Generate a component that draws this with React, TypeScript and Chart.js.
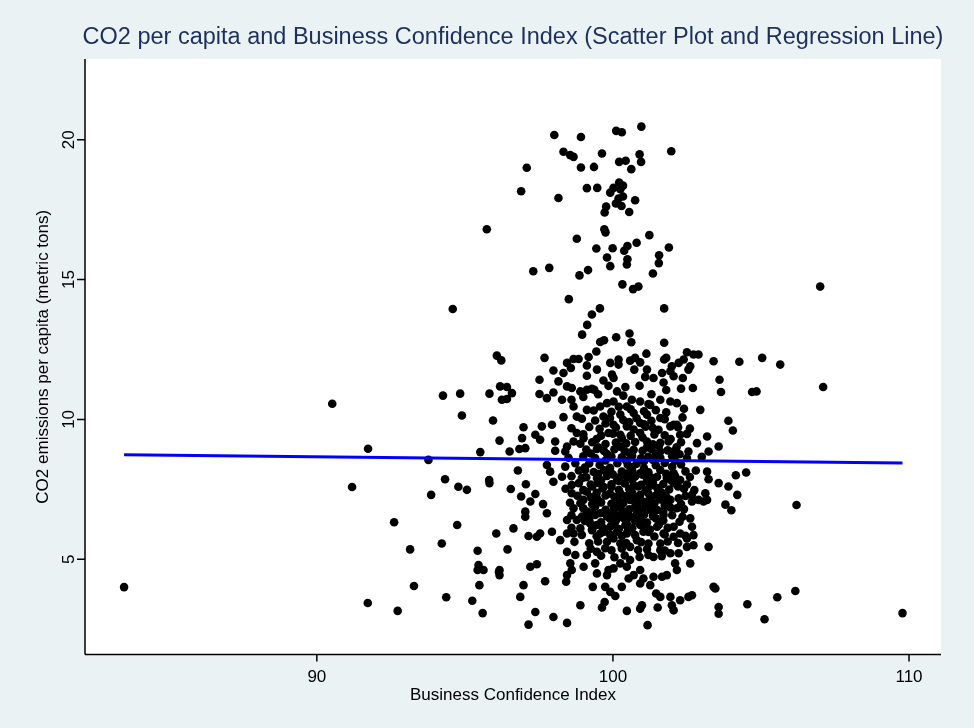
import React, { useEffect, useRef } from "react";
import { Chart, registerables } from "chart.js";

Chart.register(...registerables);

const TITLE = "CO2 per capita and Business Confidence Index (Scatter Plot and Regression Line)";
const X_TITLE = "Business Confidence Index";
const Y_TITLE = "CO2 emissions per capita (metric tons)";
const X_TICKS = [90, 100, 110];
const Y_TICKS = [5, 10, 15, 20];
const X_RANGE = [82.17, 111.08];
const Y_RANGE = [1.59, 22.89];
const REG_INTERCEPT = 9.65;
const REG_SLOPE = -0.011;

// [Business Confidence Index, CO2 per capita]
const TOP_POINTS: number[][] = [
  [98.02,20.17],[98.92,20.10],[100.11,20.32],[100.30,20.27],[100.96,20.47],
  [98.33,19.57],[98.56,19.45],[98.67,19.39],[99.63,19.51],[100.90,19.48],[101.97,19.59],
  [100.21,19.21],[100.43,19.25],[100.95,19.21],[100.62,18.95],[97.09,19.00],[98.92,19.01],[99.36,19.03],
  [96.90,18.16],[98.16,17.92],[99.12,18.27],[99.47,18.28],[100.21,18.47],[100.34,18.36],[100.02,18.28],
  [100.25,18.23],[99.91,18.11],[100.34,17.97],[100.19,17.90],[100.75,17.84],[100.10,17.72],[100.29,17.63],
  [99.77,17.61],[99.72,17.40],[100.55,17.42],
  [95.74,16.80],[99.71,16.80],[99.75,16.69],[98.78,16.46],[101.23,16.59],[99.44,16.11],[99.99,16.12],
  [100.38,16.03],[100.49,16.20],[100.80,16.32],[101.89,16.15],[101.56,15.87],[99.80,15.79],[100.49,15.73],
  [100.47,15.54],[101.55,15.59],[99.91,15.48],[97.31,15.30],[97.85,15.42],[99.16,15.34],[98.87,15.15],
  [101.35,15.22],[100.32,14.83],[100.68,14.66],[100.86,14.75],[98.51,14.30],[94.59,13.95],[99.56,13.97],
  [101.73,13.97],[107.00,14.75],
];

const UPPER_POINTS: number[][] = [
  [99.29,13.75],[99.13,13.38],[98.96,13.03],[99.70,12.83],[99.57,12.77],[100.11,12.94],[100.56,13.07],
  [100.62,12.76],[101.73,12.74],[99.44,12.43],[96.08,12.28],[96.23,12.11],[97.69,12.20],[98.45,12.02],
  [98.67,12.16],[98.84,12.16],[99.18,12.23],[99.12,11.93],[98.58,11.84],[99.46,11.78],[99.91,12.02],
  [100.19,12.14],[100.19,11.96],[100.58,12.10],[100.92,12.04],[100.75,12.20],[101.13,12.35],[100.72,11.78],
  [101.15,11.78],[101.73,12.14],[101.80,12.20],[101.99,11.90],[102.22,12.02],[102.50,12.40],[102.72,12.32],
  [102.89,12.32],[102.39,12.14],[102.61,11.90],[102.55,11.78],[103.40,12.08],
  [97.99,11.75],[97.52,11.42],[98.16,11.36],[98.33,11.66],[99.12,11.56],[99.68,11.39],[99.97,11.60],
  [100.02,11.48],[100.42,11.16],[101.09,11.52],[101.37,11.48],[101.66,11.66],[101.94,11.72],[102.05,11.54],
  [101.71,11.32],[102.36,11.48],[102.70,11.12],[103.60,11.42],
  [96.19,11.18],[96.42,11.16],[96.59,10.94],[96.25,10.70],[96.42,10.73],[95.83,10.92],[94.84,10.92],
  [94.26,10.85],[94.90,10.14],[95.95,9.96],[96.98,9.72],[97.60,9.75],[97.94,9.81],[97.52,10.91],
  [97.77,10.76],[97.99,10.96],[98.28,10.70],[98.45,11.18],[98.61,11.12],[98.67,10.46],[98.90,11.00],
  [99.12,11.06],[99.29,11.09],[99.37,11.06],[98.33,10.08],[98.78,10.10],[99.12,10.34],[99.57,10.46],
  [99.80,10.58],[100.02,10.64],[100.14,11.00],[100.64,10.70],[100.47,10.46],[100.92,10.64],[101.26,10.52],
  [101.60,10.70],[101.94,10.64],[102.16,10.58],[102.95,10.34],[99.68,10.10],[100.25,10.17],[100.70,10.23],
  [101.15,10.17],[101.60,10.05],[102.05,9.81],[102.16,9.81],[100.02,9.81],[100.47,9.87],[100.92,9.87],
  [104.27,12.06],[105.04,12.20],[105.65,11.96],[107.10,11.16],[104.70,10.98],[104.85,11.00],[103.65,10.98],
  [103.90,9.95],[104.05,9.60],
];

const MIDDLE_POINTS: number[][] = [
  [96.17,9.24],[95.52,8.83],[96.51,8.85],[96.84,8.94],[97.04,8.97],[96.93,9.33],[97.38,9.45],[97.54,9.27],
  [98.05,9.21],[98.05,8.88],[98.45,9.03],[98.39,8.85],[98.78,9.51],[98.67,9.21],[99.01,9.33],[99.46,8.94],
  [99.85,9.51],[100.25,9.45],[100.47,9.75],[100.92,9.51],[101.15,9.21],[101.54,9.63],[101.94,9.75],
  [102.27,9.45],[101.88,9.21],[101.60,8.85],[102.05,8.85],[102.55,8.85],[102.84,9.15],[103.18,9.39],
  [103.23,8.85],[103.57,9.03],
  [94.33,7.86],[94.78,7.59],[95.07,7.48],[95.82,7.83],[95.83,7.72],[96.55,7.51],[96.79,8.17],[97.06,7.68],
  [96.90,7.24],[97.38,7.33],[97.21,7.06],[97.64,6.97],[97.04,6.70],[97.04,6.52],[97.77,6.64],[97.77,8.37],
  [97.88,8.13],[97.99,7.77],[98.28,7.95],[98.39,8.31],[98.73,8.43],[99.06,8.19],[98.95,7.90],[98.61,7.65],
  [98.61,7.36],[99.12,7.41],[98.90,7.00],[99.46,7.90],[99.68,7.59],[99.46,7.18],[99.91,8.13],[100.14,7.83],
  [100.47,7.95],[100.70,7.65],[100.92,8.07],[101.15,7.83],[101.49,7.95],[101.82,7.90],[102.27,7.83],
  [102.05,8.07],[100.25,7.36],[100.58,7.12],[100.92,7.30],[101.26,7.18],[101.60,7.41],[101.94,7.12],
  [102.22,7.18],[103.18,8.13],[103.23,7.86],[103.12,7.36],[103.18,7.12],[103.06,7.06],[102.67,7.30],
  [102.67,7.06],[102.89,7.12],[103.57,7.72],
  [99.57,6.64],[99.12,6.70],[98.67,6.82],[100.02,6.76],[100.36,6.70],[100.81,6.64],[101.26,6.76],
  [101.71,6.58],[102.16,6.82],[102.61,6.46],[98.45,6.40],[98.78,6.40],[99.23,6.28],[99.91,6.16],
  [100.42,6.22],[100.92,6.22],[101.49,6.16],[102.05,6.16],[96.64,6.10],
  [104.15,8.00],[104.50,8.10],[103.90,7.60],[104.20,7.30],[103.80,6.95],[104.00,6.75],[106.20,6.94],
];

const CORE_POINTS: number[][] = [
  [99.35,10.32],[99.95,10.27],[100.6,10.36],[101.05,10.29],[101.45,10.33],[101.8,10.25],[102.4,10.38],
  [98.95,10.02],[99.4,9.96],[99.9,10.05],[100.35,9.98],[100.8,10.04],[101.3,9.95],[101.75,10.01],[102.35,10.07],
  [98.6,9.68],[99.2,9.73],[99.55,9.66],[100.1,9.71],[100.7,9.64],[101.1,9.74],[101.35,9.69],[102.6,9.67],[102.2,9.72],
  [99.0,9.47],[99.6,9.42],[100.0,9.49],[100.6,9.41],[101.4,9.46],[101.75,9.43],[102.5,9.48],
  [98.9,9.13],[99.3,9.18],[99.75,9.12],[100.1,9.17],[100.45,9.14],[100.75,9.19],[101.35,9.11],[101.6,9.16],[102.3,9.18],
  [99.1,8.92],[99.7,8.87],[100.05,8.93],[100.4,8.86],[100.7,8.91],[101.0,8.88],[101.3,8.94],[101.85,8.89],
  [98.5,8.63],[99.0,8.68],[99.4,8.62],[99.95,8.67],[100.3,8.64],[100.65,8.69],[100.95,8.61],[101.2,8.66],
  [101.6,8.63],[102.0,8.68],[102.5,8.62],[103.0,8.66],
  [99.2,8.42],[99.55,8.37],[100.15,8.43],[100.5,8.38],[100.8,8.41],[101.45,8.36],[101.75,8.44],[102.3,8.39],
  [98.85,8.17],[99.35,8.12],[99.7,8.18],[100.3,8.13],[100.65,8.16],[101.2,8.11],[101.6,8.19],[102.45,8.14],[102.8,8.17],
  [98.6,7.97],[99.1,7.93],[99.8,7.98],[100.2,7.92],[100.75,7.96],[101.3,7.91],[102.1,7.97],[102.6,7.94],
  [98.85,7.72],[99.25,7.67],[99.5,7.73],[99.95,7.68],[100.4,7.71],[100.95,7.66],[101.35,7.74],[101.7,7.69],
  [102.05,7.72],[102.5,7.67],
  [98.4,7.52],[99.0,7.47],[99.65,7.53],[100.2,7.48],[100.55,7.51],[101.1,7.46],[101.5,7.54],[101.9,7.49],
  [102.4,7.52],[102.75,7.47],
  [98.8,7.27],[99.25,7.22],[99.75,7.28],[100.05,7.23],[100.45,7.26],[100.75,7.21],[101.45,7.28],[101.8,7.24],[102.45,7.26],
  [98.55,7.02],[99.3,6.97],[99.6,7.03],[99.95,6.98],[100.35,7.01],[100.8,6.96],[101.1,7.04],[101.4,6.99],
  [101.75,7.02],[102.3,6.97],
  [99.0,6.82],[99.75,6.77],[100.25,6.83],[100.55,6.78],[101.0,6.81],[101.5,6.76],[101.95,6.84],[102.4,6.79],
  [98.6,6.57],[98.95,6.52],[99.4,6.58],[99.8,6.53],[100.15,6.56],[100.6,6.51],[101.05,6.59],[101.35,6.54],
  [102.0,6.57],[102.35,6.52],
  [99.05,6.37],[99.6,6.32],[100.1,6.38],[100.45,6.33],[100.75,6.36],[101.15,6.31],[101.7,6.38],[102.25,6.34],
  [98.6,6.12],[99.3,6.07],[99.65,6.13],[100.2,6.08],[100.65,6.11],[101.25,6.06],[101.85,6.12],
  [98.95,5.87],[99.45,5.82],[99.9,5.88],[100.3,5.83],[100.75,5.86],[101.4,5.81],[101.75,5.88],[102.45,5.84],
  [98.7,5.62],[99.2,5.57],[99.5,5.63],[100.45,5.58],[100.95,5.61],[101.2,5.56],[101.85,5.63],[102.2,5.58],
  [99.25,5.37],[99.95,5.32],[100.3,5.38],[100.85,5.33],[101.15,5.36],[101.75,5.31],
  [99.6,5.12],[100.05,5.07],[100.4,5.13],[100.9,5.08],[101.65,5.11],
  [99.0,10.8],[99.5,10.9],[100.35,10.85],[100.9,11.2],[101.3,10.9],[101.8,11.05],[102.3,11.1],[99.85,11.2],[98.6,10.7],
];

const DENSE_POINTS: number[][] = [
  [99.45,9.3],[100.3,9.32],[101.0,9.35],[101.95,9.3],
  [99.5,9.0],[100.25,9.02],[101.15,9.0],[101.55,9.05],[102.15,9.0],
  [99.25,8.78],[99.8,8.76],[100.55,8.8],[101.45,8.78],[102.25,8.75],
  [99.75,8.53],[100.45,8.52],[101.05,8.5],[101.35,8.55],[102.1,8.52],
  [99.05,8.28],[99.9,8.27],[100.65,8.29],[101.05,8.25],[102.0,8.3],
  [99.5,8.05],[100.0,8.03],[100.5,8.07],[101.0,8.02],[101.8,8.05],
  [99.6,7.82],[100.2,7.8],[100.65,7.84],[101.15,7.78],[101.95,7.83],
  [99.3,7.6],[99.95,7.58],[100.85,7.6],[101.25,7.62],[102.2,7.6],
  [99.45,7.37],[99.9,7.35],[100.65,7.38],[101.2,7.35],[101.65,7.37],
  [99.0,7.12],[99.5,7.1],[100.2,7.13],[100.95,7.1],[101.6,7.14],
  [99.4,6.88],[100.1,6.9],[100.75,6.88],[101.25,6.9],[101.75,6.92],
  [99.25,6.67],[100.0,6.65],[100.4,6.68],[100.85,6.66],[101.7,6.7],
  [99.2,6.45],[99.9,6.45],[100.35,6.47],[100.95,6.44],[101.45,6.46],
  [99.45,6.22],[100.05,6.24],[100.5,6.2],[101.05,6.25],[101.55,6.23],
  [99.7,5.98],[100.5,6.0],[101.2,5.97],
  [99.75,9.85],[100.55,9.9],[101.05,9.82],[100.2,10.45],[101.2,10.55],
];

const LOWER_POINTS: number[][] = [
  [96.06,5.92],[97.15,5.83],[97.43,5.80],[97.54,5.92],[94.22,5.56],[95.43,5.30],[96.44,5.35],[95.46,4.79],
  [95.63,4.61],[95.43,4.61],[96.17,4.61],[96.17,4.43],[95.49,4.07],[96.87,3.65],[96.98,4.07],[97.21,4.73],
  [97.43,4.82],[97.71,4.21],[97.38,3.11],[97.15,2.66],[97.99,2.93],[98.45,2.72],[98.90,3.35],[99.32,4.01],
  [99.63,3.27],[99.72,3.47],[99.74,4.01],[99.91,3.83],[100.08,3.68],[100.30,4.01],[100.47,3.15],[100.92,3.23],
  [100.98,3.35],[101.17,2.64],[101.51,3.27],[101.46,3.77],[101.60,3.65],[101.94,3.65],[101.99,3.35],
  [102.05,3.17],[102.27,3.53],[102.55,3.65],[102.67,3.71],[103.23,5.44],[103.40,4.01],[103.46,3.95],
  [103.57,3.29],[103.57,3.05],[102.61,4.85],[102.16,4.61],[102.10,4.85],[102.22,5.21],[102.50,5.44],
  [102.72,5.50],[102.50,5.74],[102.05,5.80],[101.71,5.92],[101.60,5.56],[101.94,5.21],[101.60,5.32],
  [101.37,5.08],[101.20,5.15],[101.37,4.37],[101.66,4.37],[101.82,4.43],[101.03,4.31],[101.26,4.07],
  [100.92,4.61],[100.70,4.43],[100.53,4.31],[100.92,4.13],[100.58,4.97],[100.47,4.73],[100.25,4.85],
  [100.02,4.67],[99.85,4.61],[99.80,4.43],[99.46,4.49],[99.40,4.85],[99.01,4.73],[98.56,4.85],[98.61,4.61],
  [98.45,4.43],[98.42,4.19],[98.45,5.26],[98.73,5.15],[99.12,5.15],[99.46,5.26],[99.74,5.39],[99.80,5.62],
  [100.02,5.74],[100.25,5.56],[100.58,5.44],[100.81,5.68],[101.03,5.98],[100.47,5.92],[100.14,5.98],
  [99.57,5.92],[99.29,6.04],[98.90,6.10],[98.67,5.92],[98.22,5.68],[98.45,5.92],[97.94,5.98],[102.67,6.16],
  [102.27,5.92],[102.72,5.86],
];

const OUTLIER_POINTS: number[][] = [
  [83.49,4.00],[90.52,10.56],[91.73,8.95],[91.19,7.58],[92.61,6.32],[93.15,5.35],[93.28,4.04],[91.72,3.43],
  [92.73,3.15],[93.86,7.30],[94.74,6.22],[94.37,3.64],[95.25,3.51],[95.60,3.07],[93.77,8.55],[96.15,4.55],
  [104.54,3.39],[105.55,3.64],[106.16,3.86],[105.12,2.85],[109.78,3.07],
];

const FONT = '"Liberation Sans", Arial, Helvetica, sans-serif';

export default function App() {
  const ref = useRef<HTMLCanvasElement>(null);

  useEffect(() => {
    document.body.style.margin = "0";
    const canvas = ref.current;
    if (!canvas) return;
    const all = [
      ...TOP_POINTS, ...UPPER_POINTS, ...MIDDLE_POINTS, ...CORE_POINTS, ...DENSE_POINTS,
      ...LOWER_POINTS, ...OUTLIER_POINTS,
    ];
    const pts = all.map((p) => ({ x: p[0], y: p[1] }));
    const xs = all.map((p) => p[0]);
    const xMin = Math.min(...xs);
    const xMax = Math.max(...xs);
    const reg = [xMin, xMax].map((x) => ({ x, y: REG_INTERCEPT + REG_SLOPE * x }));

    const framePlugin = {
      id: "stataFrame",
      beforeDraw(chart: any) {
        const { ctx, chartArea: a } = chart;
        ctx.save();
        ctx.fillStyle = "#eaf2f3";
        ctx.fillRect(0, 0, chart.width, chart.height);
        ctx.fillStyle = "#ffffff";
        ctx.fillRect(a.left, a.top, a.right - a.left, a.bottom - a.top);
        ctx.restore();
      },
      afterDraw(chart: any) {
        const { ctx, chartArea: a } = chart;
        const sx = chart.scales.x;
        const sy = chart.scales.y;
        ctx.save();
        ctx.strokeStyle = "#000";
        ctx.lineWidth = 1.5;
        ctx.beginPath();
        ctx.moveTo(a.left, a.bottom);
        ctx.lineTo(a.right, a.bottom);
        ctx.moveTo(a.left, a.top);
        ctx.lineTo(a.left, a.bottom);
        X_TICKS.forEach((v) => {
          const px = sx.getPixelForValue(v);
          ctx.moveTo(px, a.bottom);
          ctx.lineTo(px, a.bottom + 7);
        });
        Y_TICKS.forEach((v) => {
          const py = sy.getPixelForValue(v);
          ctx.moveTo(a.left - 8, py);
          ctx.lineTo(a.left, py);
        });
        ctx.stroke();

        ctx.fillStyle = "#000";
        ctx.font = `17px ${FONT}`;
        ctx.textAlign = "center";
        ctx.textBaseline = "alphabetic";
        X_TICKS.forEach((v) => {
          ctx.fillText(String(v), sx.getPixelForValue(v), a.bottom + 27);
        });
        Y_TICKS.forEach((v) => {
          const py = sy.getPixelForValue(v);
          ctx.save();
          ctx.translate(a.left - 11.5, py);
          ctx.rotate(-Math.PI / 2);
          ctx.fillText(String(v), 0, 0);
          ctx.restore();
        });
        const cx = (a.left + a.right) / 2;
        const cy = (a.top + a.bottom) / 2;
        ctx.fillText(X_TITLE, cx, 700);
        ctx.save();
        ctx.translate(48, cy);
        ctx.rotate(-Math.PI / 2);
        ctx.fillText(Y_TITLE, 0, 0);
        ctx.restore();

        ctx.fillStyle = "#1c2f5e";
        ctx.font = `23.5px ${FONT}`;
        ctx.fillText(TITLE, cx, 44);
        ctx.restore();
      },
    };

    const chart = new Chart(canvas, {
      type: "scatter",
      data: {
        datasets: [
          {
            data: reg,
            showLine: true,
            borderColor: "#0000ff",
            borderWidth: 3,
            pointRadius: 0,
            fill: false,
            order: 0,
          } as any,
          {
            data: pts,
            backgroundColor: "#000",
            borderColor: "#000",
            borderWidth: 0,
            pointRadius: 4.3,
            order: 1,
          },
        ],
      },
      options: {
        responsive: false,
        animation: false,
        devicePixelRatio: 1,
        layout: { padding: { left: 85, top: 59, right: 33, bottom: 73.5 } },
        plugins: { legend: { display: false }, tooltip: { enabled: false }, title: { display: false } },
        scales: {
          x: { type: "linear", display: false, min: X_RANGE[0], max: X_RANGE[1] },
          y: { type: "linear", display: false, min: Y_RANGE[0], max: Y_RANGE[1] },
        },
      },
      plugins: [framePlugin],
    });
    return () => chart.destroy();
  }, []);

  return (
    <div style={{ width: 974, height: 728 }}>
      <canvas ref={ref} width={974} height={728} style={{ display: "block" }} />
    </div>
  );
}
